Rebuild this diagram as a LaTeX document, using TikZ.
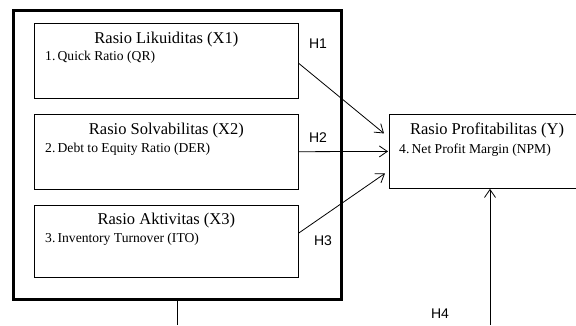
\documentclass[tikz,border=0pt]{standalone}
\usepackage{fontspec}
\setmainfont{Liberation Serif}
\setsansfont{Liberation Sans}
\usetikzlibrary{arrows.meta, positioning}

\begin{document}
\begin{tikzpicture}[
    x=1pt, y=-1pt,
    node distance=15pt,
    ratio/.style={
        draw,
        line width=0.8pt,
        minimum width=264pt,
        minimum height=75pt,
        inner sep=0pt
    },
    title/.style={
        font=\fontsize{16.5}{18}\selectfont,
        inner sep=0pt
    },
    item/.style={
        font=\fontsize{13.6}{15}\selectfont,
        inner sep=0pt,
        anchor=west
    },
    hyp/.style={font=\sffamily\fontsize{14}{16}\selectfont},
    arrow/.style={-{Straight Barb[length=8pt, width=11pt]}, line width=0.8pt}
]
\useasboundingbox (0,0) rectangle (576,325);

\node[draw, line width=2.6pt, minimum width=328pt, minimum height=289pt, anchor=north west] (frame) at (12,9) {};

\node[ratio, anchor=north west] (likuid) at (34,23) {};
\node[ratio, below=of likuid] (solva) {};
\node[ratio, below=of solva, minimum height=72pt] (aktiv) {};
\node[ratio, minimum width=190pt, minimum height=74pt, anchor=north west] (profit) at (389,114) {};

\node[title] (likuidT) at ([yshift=-17pt]likuid.north) {Rasio Likuiditas (X1)};
\node[item] (likuidI) at ([xshift=11pt, yshift=-34.5pt]likuid.north west) {1.\,Quick Ratio (QR)};
\node[title] (solvaT) at ([yshift=-17pt]solva.north) {Rasio Solvabilitas (X2)};
\node[item] (solvaI) at ([xshift=11pt, yshift=-35pt]solva.north west) {2.\,Debt to Equity Ratio (DER)};
\node[title] (aktivT) at ([yshift=-16pt]aktiv.north) {Rasio Aktivitas (X3)};
\node[item] (aktivI) at ([xshift=11pt, yshift=-35pt]aktiv.north west) {3.\,Inventory Turnover (ITO)};
\node[title] (profitT) at ([xshift=98pt, yshift=-16pt]profit.north west) {Rasio Profitabilitas (Y)};
\node[item] (profitI) at ([xshift=10pt, yshift=-36pt]profit.north west) {4.\,Net Profit Margin (NPM)};

\node[hyp] (h1) at (318,44) {H1};
\node[hyp] (h2) at (318,138) {H2};
\node[hyp] (h3) at (323,241) {H3};
\node[hyp] (h4) at (440,314) {H4};

\coordinate (frameEnd) at (frame.south |- 0,325);
\coordinate (profitIn) at (490,325);

\draw[arrow] ([yshift=-2.5pt]likuid.east) -- ([xshift=-5pt, yshift=18pt]profit.west);
\draw[arrow] (solva.east) -- ([xshift=-1pt]profit.west);
\draw[arrow] ([yshift=8pt]aktiv.east) -- ([xshift=-4pt, yshift=-22pt]profit.west);
\draw[line width=0.8pt] (frame.south) -- (frameEnd);
\draw[arrow] (profitIn) -- (profit.south -| profitIn);

\end{tikzpicture}
\end{document}
